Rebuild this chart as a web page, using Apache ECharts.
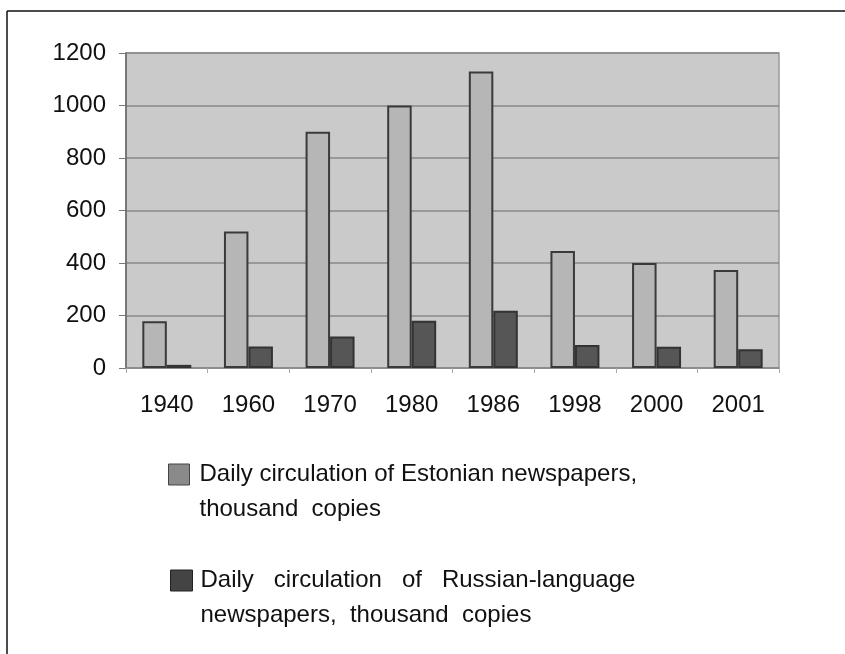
<!DOCTYPE html>
<html><head><meta charset="utf-8">
<script src="https://cdn.jsdelivr.net/npm/echarts@6/dist/echarts.min.js"></script>
<style>html,body{margin:0;padding:0;background:#fff;}#c{width:845px;height:654px;}</style>
</head><body><div id="c"></div>
<script>
const categories = ['1940','1960','1970','1980','1986','1998','2000','2001'];
const estonian = [178, 520, 900, 1000, 1130, 446, 400, 373];
const russian = [12, 82, 120, 180, 218, 88, 81, 71];
const seriesNames = [
  'Daily circulation of Estonian newspapers,\nthousand  copies',
  'Daily   circulation   of   Russian-language\nnewspapers,  thousand  copies'
];
const yTicks = {min: 0, max: 1200, interval: 200};

const chart = echarts.init(document.getElementById('c'), null, {renderer: 'canvas'});
const font = '"Liberation Sans", Arial, sans-serif';
const legendText1 = {fontFamily: font, fontSize: 24, color: '#111', lineHeight: 35, padding: [0, 0, 0, 5]};
const legendText2 = {fontFamily: font, fontSize: 24, color: '#111', lineHeight: 35, padding: [0, 0, 0, 3]};
chart.setOption({
  animation: false,
  backgroundColor: '#fff',
  graphic: [
    {type: 'line', shape: {x1: 7, y1: 11, x2: 845, y2: 11}, style: {stroke: '#111', lineWidth: 1.5}},
    {type: 'line', shape: {x1: 7, y1: 11, x2: 7, y2: 654}, style: {stroke: '#111', lineWidth: 1.5}}
  ],
  grid: {left: 126, right: 66, top: 53, bottom: 286, show: true, backgroundColor: '#cacaca', borderColor: '#9a9a9a', borderWidth: 1.5},
  legend: [
    {data: [{name: seriesNames[0], itemStyle: {color: '#8a8a8a', borderColor: '#444', borderWidth: 1}}], left: 168, top: 422, padding: 0,
     itemWidth: 21, itemHeight: 21, icon: 'rect', textStyle: legendText1, selectedMode: false,
     formatter: n => '\n' + n},
    {data: [{name: seriesNames[1], itemStyle: {color: '#444', borderColor: '#222', borderWidth: 1}}], left: 170, top: 528, padding: 0,
     itemWidth: 22, itemHeight: 21, icon: 'rect', textStyle: legendText2, selectedMode: false,
     formatter: n => '\n' + n}
  ],
  xAxis: {
    type: 'category', data: categories,
    axisLine: {show: true, lineStyle: {color: '#8a8a8a', width: 1.5}},
    axisTick: {show: true, length: 5, lineStyle: {color: '#aaa'}},
    axisLabel: {fontFamily: font, fontSize: 24, color: '#111', margin: 25},
    splitLine: {show: false}
  },
  yAxis: {
    type: 'value', min: yTicks.min, max: yTicks.max, interval: yTicks.interval,
    axisLine: {show: true, lineStyle: {color: '#666', width: 1.5}},
    axisTick: {show: true, length: 7, lineStyle: {color: '#777'}},
    axisLabel: {fontFamily: font, fontSize: 24, color: '#111', margin: 20, formatter: v => String(v)},
    splitLine: {show: true, lineStyle: {color: '#888', width: 1.5}}
  },
  series: [
    {name: seriesNames[0], type: 'bar', data: estonian, barGap: '0%', barCategoryGap: '40%',
     itemStyle: {color: '#b6b6b6', borderColor: '#3a3a3a', borderWidth: 2}},
    {name: seriesNames[1], type: 'bar', data: russian, barGap: '0%', barCategoryGap: '40%',
     itemStyle: {color: '#565656', borderColor: '#333', borderWidth: 2}}
  ]
});
</script></body></html>
